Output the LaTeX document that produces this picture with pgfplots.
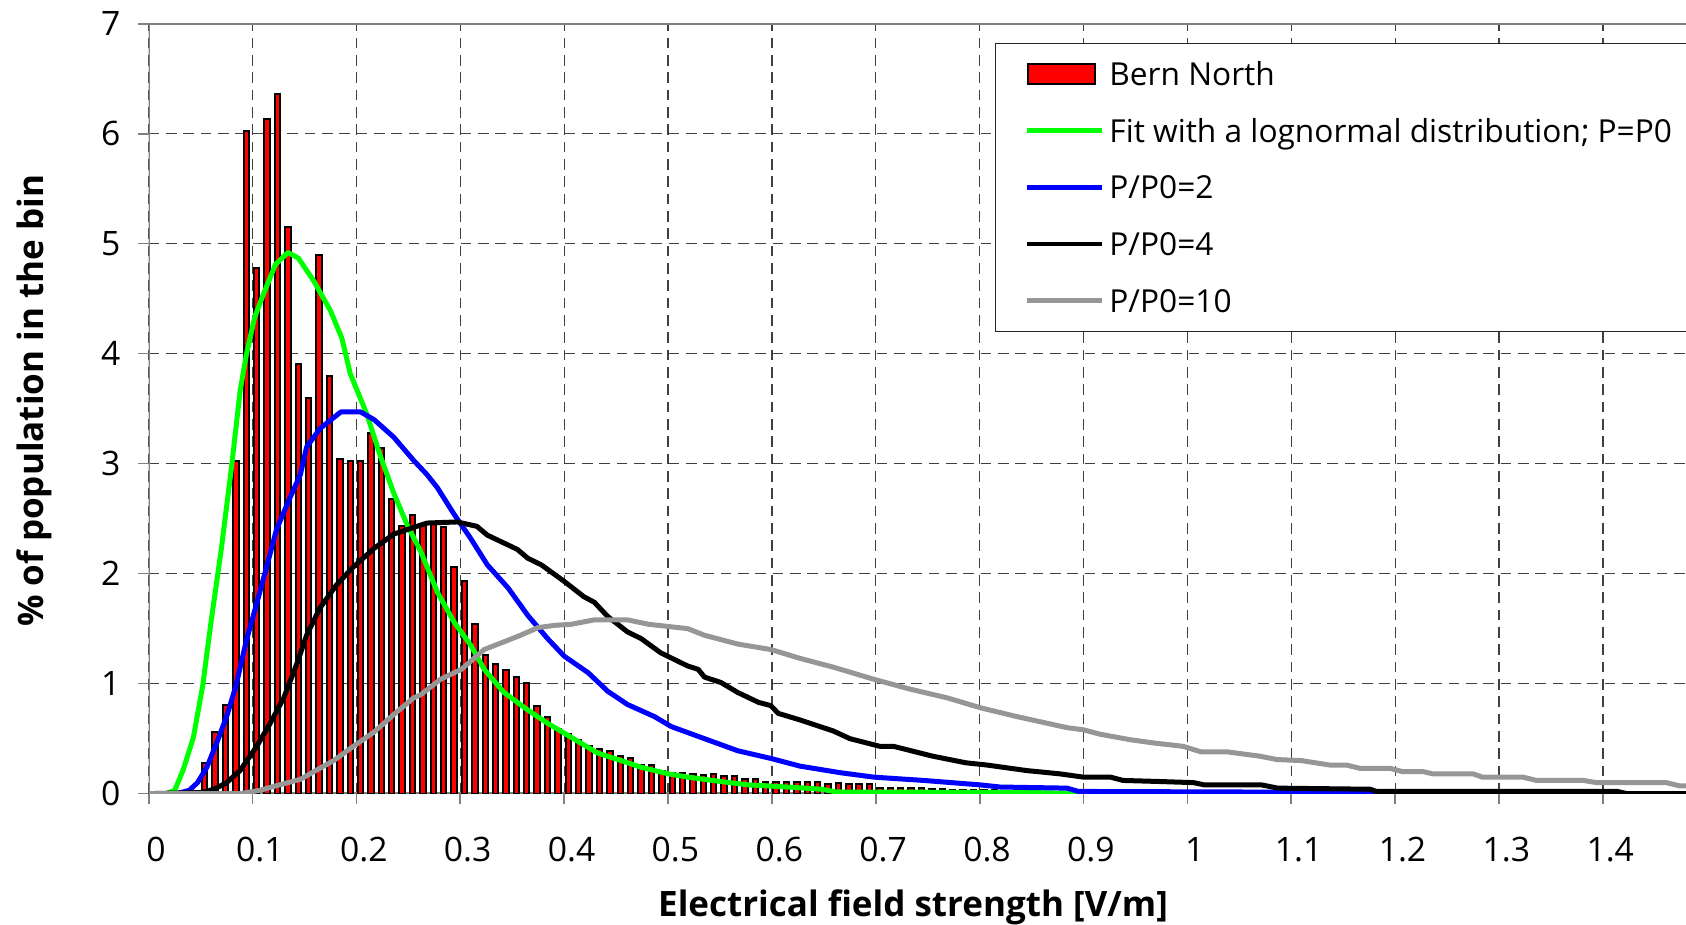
\documentclass[border=0pt]{standalone}
\usepackage{fontspec}
\setmainfont{Open Sans}
\usepackage{pgfplots}
\usepackage{pgfplotstable}
\pgfplotsset{compat=1.18}
\definecolor{lgray}{RGB}{150,150,150}
\definecolor{axgray}{RGB}{128,128,128}
\definecolor{lgreen}{RGB}{0,255,0}
\definecolor{lblue}{RGB}{0,0,255}
\definecolor{lred}{RGB}{255,0,0}

\pgfplotstableread{
x h
0.054 0.28
0.064 0.56
0.074 0.81
0.084 3.02
0.094 6.02
0.104 4.78
0.114 6.13
0.124 6.36
0.134 5.15
0.144 3.91
0.154 3.60
0.164 4.90
0.174 3.80
0.184 3.04
0.194 3.02
0.204 3.02
0.214 3.28
0.224 3.14
0.234 2.68
0.244 2.43
0.254 2.53
0.264 2.44
0.274 2.45
0.284 2.42
0.294 2.06
0.304 1.93
0.314 1.54
0.324 1.26
0.334 1.18
0.344 1.12
0.354 1.06
0.364 1.01
0.374 0.80
0.384 0.70
0.394 0.59
0.404 0.54
0.414 0.49
0.424 0.43
0.434 0.41
0.444 0.39
0.454 0.34
0.464 0.32
0.474 0.26
0.484 0.26
0.494 0.21
0.504 0.19
0.514 0.19
0.524 0.18
0.534 0.17
0.544 0.18
0.554 0.16
0.564 0.16
0.574 0.13
0.584 0.13
0.594 0.11
0.604 0.11
0.614 0.11
0.624 0.11
0.634 0.11
0.644 0.11
0.654 0.09
0.664 0.10
0.674 0.09
0.684 0.09
0.694 0.09
0.704 0.055
0.714 0.055
0.724 0.055
0.734 0.055
0.744 0.055
0.754 0.04
0.764 0.04
0.774 0.03
0.784 0.03
0.794 0.03
0.804 0.03
0.814 0.03
}\bars

\pgfplotstableread{
x y
0 0
0.017 0
0.025 0.03
0.033 0.21
0.043 0.51
0.052 0.98
0.060 1.56
0.070 2.23
0.080 2.99
0.088 3.66
0.094 3.99
0.102 4.33
0.110 4.53
0.122 4.81
0.134 4.92
0.144 4.87
0.159 4.66
0.175 4.39
0.186 4.14
0.194 3.82
0.210 3.45
0.223 3.07
0.236 2.73
0.249 2.44
0.262 2.20
0.278 1.83
0.294 1.56
0.310 1.35
0.323 1.13
0.342 0.92
0.365 0.76
0.384 0.64
0.400 0.55
0.432 0.37
0.455 0.30
0.474 0.24
0.500 0.18
0.519 0.15
0.551 0.11
0.577 0.08
0.615 0.06
0.648 0.04
0.662 0.015
0.85 0.01
0.90 0
1.48 0
}\green

\pgfplotstableread{
x y
0 0
0.027 0
0.039 0.03
0.047 0.10
0.056 0.24
0.065 0.45
0.075 0.70
0.084 0.98
0.094 1.39
0.104 1.73
0.1135 2.06
0.123 2.40
0.136 2.69
0.146 2.90
0.152 3.15
0.165 3.32
0.185 3.47
0.204 3.47
0.217 3.40
0.236 3.24
0.255 3.03
0.268 2.90
0.278 2.78
0.294 2.54
0.310 2.32
0.326 2.08
0.346 1.87
0.365 1.62
0.384 1.41
0.400 1.25
0.423 1.10
0.442 0.93
0.461 0.81
0.487 0.70
0.503 0.61
0.535 0.50
0.567 0.39
0.599 0.32
0.627 0.25
0.666 0.19
0.698 0.15
0.746 0.12
0.800 0.08
0.820 0.06
0.884 0.05
0.895 0.02
1.05 0.015
1.18 0.01
1.19 0
1.48 0
}\blue

\pgfplotstableread{
x y
0 0
0.049 0.01
0.056 0.02
0.065 0.05
0.075 0.10
0.088 0.21
0.104 0.43
0.117 0.64
0.130 0.87
0.143 1.19
0.152 1.44
0.165 1.69
0.181 1.90
0.197 2.06
0.217 2.23
0.236 2.36
0.255 2.42
0.268 2.46
0.297 2.47
0.316 2.43
0.326 2.35
0.355 2.22
0.365 2.14
0.378 2.08
0.400 1.93
0.419 1.79
0.429 1.74
0.442 1.61
0.461 1.47
0.474 1.41
0.493 1.28
0.519 1.16
0.529 1.13
0.535 1.06
0.551 1.01
0.567 0.92
0.587 0.83
0.599 0.80
0.606 0.73
0.627 0.67
0.659 0.57
0.675 0.50
0.704 0.43
0.717 0.43
0.755 0.34
0.787 0.28
0.807 0.26
0.845 0.21
0.877 0.18
0.900 0.15
0.926 0.15
0.938 0.12
0.974 0.11
1.006 0.10
1.016 0.08
1.071 0.08
1.087 0.05
1.176 0.04
1.182 0.02
1.414 0.02
1.423 0
1.48 0
}\black

\pgfplotstableread{
x y
0 0
0.088 0
0.107 0.03
0.126 0.08
0.146 0.13
0.159 0.20
0.178 0.30
0.197 0.43
0.217 0.56
0.236 0.72
0.255 0.87
0.262 0.90
0.281 1.04
0.301 1.13
0.323 1.31
0.342 1.38
0.358 1.44
0.375 1.51
0.391 1.53
0.407 1.54
0.429 1.58
0.461 1.58
0.481 1.54
0.500 1.52
0.519 1.50
0.535 1.44
0.567 1.36
0.599 1.31
0.627 1.23
0.659 1.15
0.698 1.04
0.733 0.95
0.769 0.87
0.801 0.78
0.836 0.70
0.884 0.60
0.900 0.58
0.916 0.54
0.945 0.49
0.968 0.46
0.996 0.43
1.013 0.38
1.038 0.38
1.070 0.34
1.086 0.31
1.110 0.30
1.137 0.26
1.153 0.26
1.166 0.23
1.195 0.23
1.207 0.20
1.227 0.20
1.236 0.18
1.275 0.18
1.284 0.15
1.323 0.15
1.336 0.12
1.381 0.12
1.394 0.10
1.461 0.10
1.474 0.07
1.48 0.07
}\gray

\begin{document}
\begin{tikzpicture}
\begin{axis}[
  scale only axis,
  width=461.2pt, height=231pt,
  xmin=0, xmax=1.48, ymin=0, ymax=7,
  xtick={0,0.1,0.2,0.3,0.4,0.5,0.6,0.7,0.8,0.9,1,1.1,1.2,1.3,1.4},
  xticklabels={0,0.1,0.2,0.3,0.4,0.5,0.6,0.7,0.8,0.9,1,1.1,1.2,1.3,1.4},
  ytick={0,1,2,3,4,5,6,7},
  /pgf/number format/assume math mode=true,
  tick pos=left,
  tick align=outside,
  major tick length=3.2pt,
  tick style={axgray, line width=0.5pt},
  grid=major,
  major grid style={black!75, line width=0.35pt, dash pattern=on 3.2pt off 2pt},
  axis line style={draw=none},
  ticklabel style={font=\fontsize{10.1}{12}\selectfont},
  xticklabel style={anchor=north, inner sep=0pt, text height=7.2pt, yshift=-9.7pt, xshift=2.2pt},
  yticklabel style={anchor=east, inner sep=0pt, xshift=-5.1pt},
  xlabel={Electrical field strength [V/m]},
  ylabel={\% of population in the bin},
  xlabel style={at={(axis description cs:0.4972,-0.1479)}, anchor=center, font=\fontsize{10.5}{12}\selectfont\bfseries},
  ylabel style={at={(axis description cs:-0.0745,0.5102)}, anchor=center, font=\fontsize{10.5}{12}\selectfont\bfseries},
  legend cell align=left,
  legend style={at={(axis description cs:0.5503,0.9753)}, anchor=north west,
    draw=black!85, line width=0.45pt, fill=white,
    font=\fontsize{9.5}{11}\selectfont,
    inner xsep=8.7pt, inner ysep=5.8pt,
    row sep=10.2pt, column sep=1.6pt,
    nodes={inner sep=0pt, text height=6.8pt, text depth=0pt}},
]
\coordinate (SW) at (rel axis cs:0,0);
\coordinate (NE) at (rel axis cs:1,1);
\draw[axgray, line width=0.7pt] (rel axis cs:1,1) -- (rel axis cs:0,1) -- (rel axis cs:0,0) -- (rel axis cs:1,0);

\addplot[ybar, bar width=0.0052, bar shift=0pt, fill=lred, draw=black, line width=0.6pt,
  legend image code/.code={\draw[fill=lred, draw=black, line width=0.6pt] (0.3pt,-3.1pt) rectangle (20.6pt,3.1pt);}]
  table[x=x, y=h] {\bars};
\addlegendentry{Bern North}

\addplot[lgreen, line width=1.5pt, line join=round,
  legend image code/.code={\draw[lgreen, line width=1.4pt] (0pt,0pt) -- (22.5pt,0pt);}]
  table[x=x, y=y] {\green};
\addlegendentry{Fit with a lognormal distribution; P=P0}

\addplot[lblue, line width=1.5pt, line join=round,
  legend image code/.code={\draw[lblue, line width=1.4pt] (0pt,0pt) -- (22.5pt,0pt);}]
  table[x=x, y=y] {\blue};
\addlegendentry{P/P0=2}

\addplot[black, line width=1.5pt, line join=round,
  legend image code/.code={\draw[black, line width=1.4pt] (0pt,0pt) -- (22.5pt,0pt);}]
  table[x=x, y=y] {\black};
\addlegendentry{P/P0=4}

\addplot[lgray, line width=1.5pt, line join=round,
  legend image code/.code={\draw[lgray, line width=1.4pt] (0pt,0pt) -- (22.5pt,0pt);}]
  table[x=x, y=y] {\gray};
\addlegendentry{P/P0=10}
\end{axis}
\pgfresetboundingbox
\path[use as bounding box] ([xshift=-44.61pt, yshift=-39.12pt]SW) rectangle ([yshift=7.11pt]NE);
\end{tikzpicture}
\end{document}
